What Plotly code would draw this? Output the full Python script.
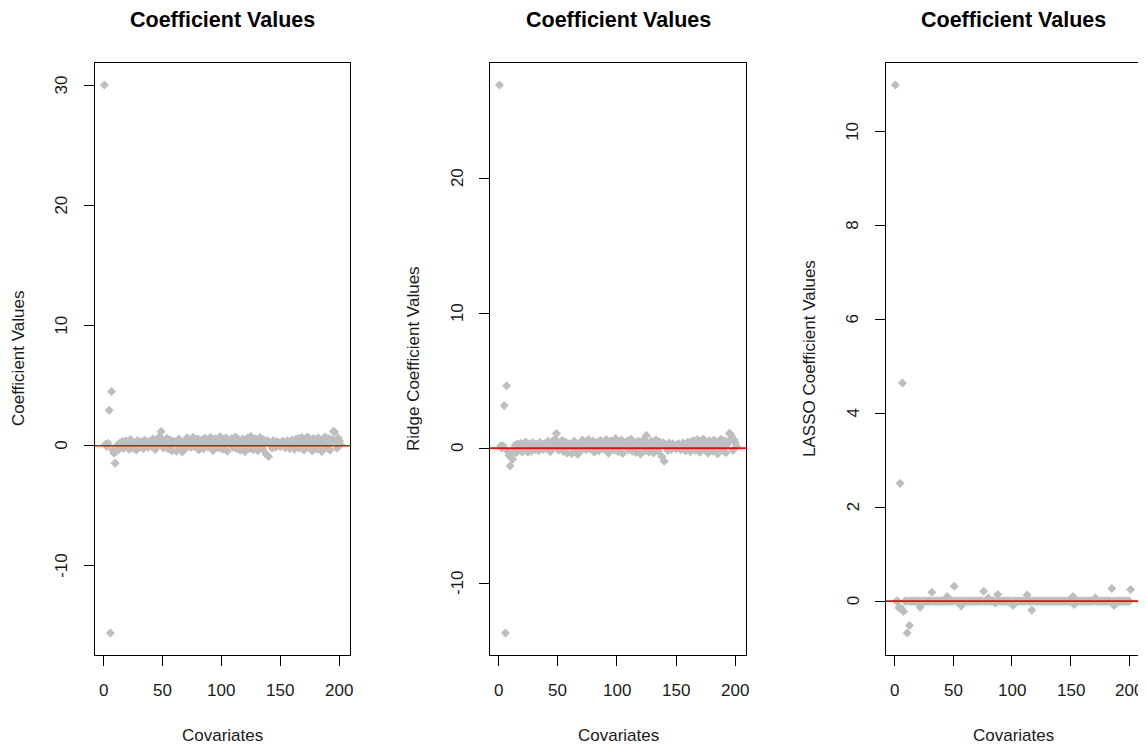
import plotly.graph_objects as go

# The page body adds an 8px margin, so the figure is 8px smaller and every
# pixel position below is expressed in figure pixels (reference - 8).
W, H = 1138, 742
OFF = 8

# Covariate index (intercept + 200 covariates)
covariate_index = list(range(1, 202))

ols_coef = [
    30.05, 0.12, -0.05, 0.21, 2.95, -15.6, 4.52, -0.35, -0.62, -1.45,
    -0.48, 0.05, -0.31, 0.22, -0.12, 0.35, -0.22, 0.08, 0.41, -0.15,
    0.18, -0.28, 0.52, 0.03, -0.19, 0.27, 0.11, -0.36, 0.44, 0.06,
    -0.09, 0.33, 0.15, -0.25, 0.48, 0.02, 0.29, -0.14, 0.38, 0.21,
    -0.05, 0.56, 0.12, -0.32, 0.25, 0.61, 0.08, 0.74, 1.18, 0.31,
    -0.18, 0.42, 0.05, 0.63, -0.27, 0.19, 0.47, -0.41, 0.10, 0.36,
    0.22, -0.45, 0.13, 0.55, -0.08, 0.31, -0.52, 0.17, 0.40, -0.20,
    0.66, 0.09, 0.28, -0.15, 0.51, 0.71, -0.06, 0.35, 0.20, 0.58,
    -0.35, 0.12, 0.45, 0.03, -0.24, 0.62, 0.27, 0.49, -0.10, 0.38,
    0.70, 0.15, -0.42, 0.33, 0.58, 0.06, 0.44, -0.18, 0.76, 0.24,
    -0.30, 0.52, 0.11, 0.67, -0.46, 0.29, 0.41, 0.04, 0.60, -0.14,
    0.35, 0.72, -0.25, 0.18, 0.47, -0.38, 0.26, 0.55, 0.09, -0.50,
    0.31, 0.63, 0.14, -0.22, 0.78, 0.40, -0.33, 0.21, 0.57, 0.07,
    -0.41, 0.36, 0.69, 0.12, -0.28, 0.50, 0.23, -0.70, 0.44, -0.90,
    0.30, 0.08, -0.20, 0.42, 0.16, -0.12, 0.34, 0.05, 0.25, -0.08,
    0.19, 0.37, 0.02, -0.16, 0.28, 0.41, 0.11, -0.24, 0.33, 0.48,
    0.07, -0.30, 0.52, 0.26, 0.61, -0.18, 0.39, 0.68, 0.14, -0.35,
    0.57, 0.22, 0.73, -0.11, 0.45, 0.31, -0.42, 0.60, 0.18, 0.49,
    -0.26, 0.66, 0.10, 0.38, -0.47, 0.54, 0.20, 0.72, -0.15, 0.43,
    0.60, -0.38, 0.28, 0.51, 1.20, 1.15, 0.36, -0.20, 0.65, 0.42,
    0.10,
]

ridge_coef = [
    26.9, 0.15, 0.02, 0.18, 3.15, -13.7, 4.62, -0.25, -0.55, -1.32,
    -0.40, -0.82, -0.25, 0.20, -0.35, 0.30, -0.18, 0.12, 0.36, -0.28,
    0.22, -0.15, 0.45, 0.05, -0.30, 0.31, 0.08, -0.22, 0.40, 0.10,
    -0.12, 0.28, 0.18, -0.20, 0.42, 0.04, 0.25, -0.10, 0.33, 0.19,
    -0.03, 0.50, 0.14, -0.26, 0.22, 0.55, 0.10, 0.65, 1.08, 0.28,
    -0.15, 0.38, 0.07, 0.57, -0.24, 0.17, 0.43, -0.36, 0.12, 0.32,
    0.20, -0.40, 0.15, 0.50, -0.06, 0.28, -0.45, 0.19, 0.36, -0.17,
    0.60, 0.10, 0.25, -0.12, 0.47, 0.64, -0.04, 0.32, 0.22, 0.53,
    -0.30, 0.14, 0.41, 0.05, -0.20, 0.56, 0.25, 0.45, -0.08, 0.35,
    0.63, 0.16, -0.37, 0.30, 0.52, 0.08, 0.40, -0.15, 0.70, 0.22,
    -0.26, 0.48, 0.12, 0.60, -0.40, 0.27, 0.37, 0.06, 0.55, -0.12,
    0.32, 0.66, -0.22, 0.17, 0.43, -0.33, 0.24, 0.50, 0.10, -0.44,
    0.28, 0.58, 0.13, -0.19, 0.94, 0.37, -0.29, 0.20, 0.52, 0.08,
    -0.36, 0.33, 0.62, 0.13, -0.25, 0.46, 0.21, -0.62, 0.40, -0.97,
    0.27, 0.09, -0.18, 0.38, 0.15, -0.10, 0.31, 0.06, 0.23, -0.07,
    0.17, 0.34, 0.03, -0.14, 0.26, 0.37, 0.10, -0.21, 0.30, 0.44,
    0.08, -0.27, 0.48, 0.24, 0.56, -0.16, 0.36, 0.62, 0.13, -0.31,
    0.52, 0.20, 0.67, -0.10, 0.41, 0.28, -0.38, 0.55, 0.16, 0.45,
    -0.23, 0.60, 0.10, 0.35, -0.42, 0.50, 0.18, 0.66, -0.13, 0.40,
    0.55, -0.34, 0.26, 0.47, 1.10, 1.02, 0.84, -0.18, 0.60, 0.38,
    0.12,
]

# LASSO: non-zero coefficients (all others are exactly zero)
lasso_nonzero_index = [1, 4, 5, 6, 7, 8, 11, 13, 22, 32, 45, 51, 57, 76, 80,
                       86, 88, 101, 113, 117, 152, 153, 171, 185, 187, 201]
lasso_nonzero_value = [11.0, -0.14, 2.51, -0.15, 4.65, -0.22, -0.68, -0.52,
                       -0.13, 0.19, 0.10, 0.32, -0.10, 0.21, 0.07, -0.04,
                       0.14, -0.09, 0.13, -0.19, 0.10, -0.07, 0.07, 0.27,
                       -0.09, 0.25]
lasso_coef = [0.0] * len(covariate_index)
for i, v in zip(lasso_nonzero_index, lasso_nonzero_value):
    lasso_coef[covariate_index.index(i)] = v

panel_titles = ["Coefficient Values", "Coefficient Values", "Coefficient Values"]
y_titles = ["Coefficient Values", "Ridge Coefficient Values", "LASSO Coefficient Values"]
x_title = "Covariates"
x_ticks = [0, 50, 100, 150, 200]
x_tick_labels = ["0", "50", "100", "150", "200"]
y_ticks = [[-10, 0, 10, 20, 30], [-10, 0, 10, 20], [0, 2, 4, 6, 8, 10]]
y_tick_labels = [["-10", "0", "10", "20", "30"], ["-10", "0", "10", "20"],
                 ["0", "2", "4", "6", "8", "10"]]

series = [ols_coef, ridge_coef, lasso_coef]

# panel boxes in reference pixels (left, right), top/bottom
boxes = [(95, 350), (490, 746), (886, 1140)]
box_top, box_bottom = 63, 655

FONT = "Liberation Sans, Arial, sans-serif"
TXT = "#1a1a1a"
fig = go.Figure()


def px_x(x):
    return (x - OFF) / W


def px_y(y):
    return 1 - (y - OFF) / H


def r_range(v):
    lo, hi = min(v), max(v)
    d = (hi - lo) * 0.04
    return [lo - d, hi + d]


xr = r_range(covariate_index)
annotations = []
for k in range(3):
    sfx = "" if k == 0 else str(k + 1)
    fig.add_trace(go.Scatter(
        x=covariate_index, y=series[k], mode="markers",
        marker=dict(symbol="diamond", size=7, color="#BEBEBE", line=dict(width=0)),
        xaxis="x" + sfx, yaxis="y" + sfx, showlegend=False, hoverinfo="x+y",
    ))
    l, r = boxes[k]
    axis_common = dict(
        showgrid=False, zeroline=False, showline=True, linecolor="black",
        linewidth=1, mirror=True, ticks="outside", ticklen=10, tickwidth=1,
        tickcolor="black", showticklabels=False,
    )
    fig.update_layout(**{
        "xaxis" + sfx: dict(domain=[px_x(l), px_x(r)], range=xr, tickvals=x_ticks,
                            anchor="y" + sfx, **axis_common),
        "yaxis" + sfx: dict(domain=[px_y(box_bottom), px_y(box_top)],
                            range=r_range(series[k]), tickvals=y_ticks[k],
                            anchor="x" + sfx, **axis_common),
    })
    fig.add_shape(type="line", xref="x" + sfx + " domain", yref="y" + sfx,
                  x0=0, x1=1, y0=0, y1=0, line=dict(color="#FF0000", width=1.6),
                  layer="above")
    # tick labels (R style: y labels rotated, parallel to the axis)
    for tv, tt in zip(x_ticks, x_tick_labels):
        annotations.append(dict(text=tt, x=tv, y=px_y(690), xref="x" + sfx, yref="paper",
                                showarrow=False, xanchor="center", yanchor="middle",
                                font=dict(family=FONT, size=17, color=TXT)))
    for tv, tt in zip(y_ticks[k], y_tick_labels[k]):
        annotations.append(dict(text=tt, x=px_x(l - 33), y=tv, xref="paper", yref="y" + sfx,
                                showarrow=False, xanchor="center", yanchor="middle",
                                textangle=-90, font=dict(family=FONT, size=17, color=TXT)))
    cx = px_x((l + r) / 2)
    annotations.append(dict(text="<b>" + panel_titles[k] + "</b>", x=cx, y=px_y(20.5),
                            xref="paper", yref="paper", showarrow=False,
                            xanchor="center", yanchor="middle",
                            font=dict(family=FONT, size=21.5, color="black")))
    annotations.append(dict(text=x_title, x=cx, y=px_y(735), xref="paper", yref="paper",
                            showarrow=False, xanchor="center", yanchor="middle",
                            font=dict(family=FONT, size=17, color=TXT)))
    annotations.append(dict(text=y_titles[k], x=px_x(l - 77),
                            y=px_y((box_top + box_bottom) / 2), xref="paper", yref="paper",
                            showarrow=False, xanchor="center", yanchor="middle", textangle=-90,
                            font=dict(family=FONT, size=17, color=TXT)))

fig.update_layout(
    width=W, height=H, margin=dict(l=0, r=0, t=0, b=0, autoexpand=False),
    paper_bgcolor="white", plot_bgcolor="white",
    annotations=annotations,
)

fig.write_html("out.html")
